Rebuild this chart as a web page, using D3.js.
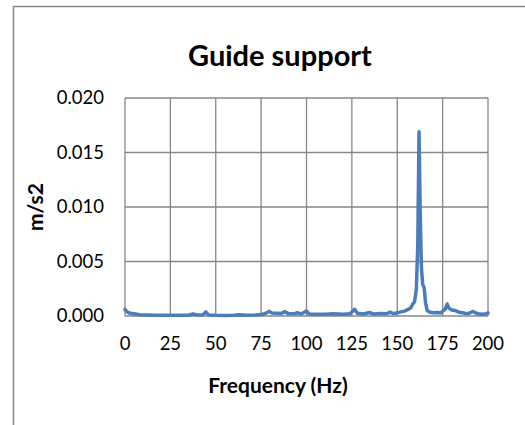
<!DOCTYPE html>
<html>
<head>
<meta charset="utf-8">
<script src="https://cdn.jsdelivr.net/npm/d3@7"></script>
<style>
  body { margin: 0; background: #fff; }
  svg { display: block; font-family: Lato, "Open Sans", sans-serif; }
</style>
</head>
<body>
<svg width="525" height="425"></svg>
<script>
(function () {

  // frequency (Hz) and amplitude (m/s2)
  var freq = [0, 1, 2, 3, 5, 8, 12, 18, 25, 30, 35, 37.5, 40, 43, 44.5, 46, 50, 55, 60, 63, 67, 72, 75,
    77, 78, 79.5, 81, 84, 86, 88, 90, 93, 95, 97, 100, 101.5, 105, 110, 115, 120, 124, 126.5, 128,
    131, 135, 137, 141, 144, 146, 148, 150, 152, 154, 156, 157.5, 158.5, 159.5, 160.5, 161.3, 162,
    162.7, 163.3, 164, 164.8, 165.6, 166.5, 168, 170, 172, 174, 175.5, 176.5, 177.5, 178.5, 180, 182,
    184, 186, 188, 190, 191.5, 193, 195, 197, 199, 200]
  var accel = [0.0006, 0.0004, 0.0003, 0.00025, 0.0002, 0.00012, 0.0001, 0.00008, 0.00008, 0.00007, 0.00008, 0.00018, 0.0001, 0.00012, 0.00038, 0.0001, 0.00006, 0.00005, 0.00006, 0.00012, 0.00007, 0.00009, 0.00014,
    0.0002, 0.0003, 0.00042, 0.00028, 0.00025, 0.00022, 0.0004, 0.00022, 0.0002, 0.0003, 0.00018, 0.00045, 0.00018, 0.00016, 0.00015, 0.0002, 0.00015, 0.0002, 0.00062, 0.00025,
    0.00018, 0.00032, 0.00018, 0.00022, 0.0002, 0.00035, 0.00022, 0.0003, 0.00038, 0.00045, 0.0006, 0.00075, 0.0011, 0.0013, 0.0024, 0.0065, 0.0169,
    0.009, 0.0045, 0.0029, 0.0026, 0.0012, 0.0005, 0.00035, 0.0003, 0.00032, 0.00028, 0.0005, 0.00065, 0.0011, 0.0007, 0.00055, 0.0005,
    0.00035, 0.0003, 0.00022, 0.00028, 0.00042, 0.0003, 0.00018, 0.00016, 0.0002, 0.00028]

  var xTicks = [0, 25, 50, 75, 100, 125, 150, 175, 200]
  var yTicks = [0, 0.005, 0.010, 0.015, 0.020]

  var svg = d3.select('svg')
  var grey = '#878787'

  // outer chart border (runs off the right and bottom edges)
  svg.append('rect')
    .attr('x', 13.5).attr('y', 6.5)
    .attr('width', 540).attr('height', 440)
    .attr('fill', 'none').attr('stroke', grey).attr('stroke-width', 1.5)

  var left = 125, right = 488, top = 98, bottom = 316

  var x = d3.scaleLinear().domain([0, 200]).range([left, right])
  var y = d3.scaleLinear().domain([0, 0.02]).range([bottom, top])

  // gridlines
  svg.append('g').selectAll('line')
    .data(xTicks)
    .enter().append('line')
    .attr('x1', d => x(d)).attr('x2', d => x(d))
    .attr('y1', top).attr('y2', bottom)
    .attr('stroke', grey).attr('stroke-width', 1.3)

  svg.append('g').selectAll('line')
    .data(yTicks)
    .enter().append('line')
    .attr('x1', left).attr('x2', right)
    .attr('y1', d => y(d)).attr('y2', d => y(d))
    .attr('stroke', grey).attr('stroke-width', 1.3)

  // tick labels
  svg.append('g').selectAll('text')
    .data(yTicks)
    .enter().append('text')
    .attr('x', 104)
    .attr('y', d => y(d))
    .attr('dy', '0.35em')
    .attr('text-anchor', 'end')
    .attr('font-size', 18.5)
    .attr('fill', '#000')
    .text(d => d3.format('.3f')(d))

  svg.append('g').selectAll('text')
    .data(xTicks)
    .enter().append('text')
    .attr('x', d => x(d))
    .attr('y', 344)
    .attr('dy', '0.35em')
    .attr('text-anchor', 'middle')
    .attr('font-size', 18.5)
    .attr('fill', '#000')
    .text(d => d)

  // the spectrum
  var line = d3.line()
    .x((d, i) => x(freq[i]))
    .y(d => y(d))

  svg.append('path')
    .datum(accel)
    .attr('d', line)
    .attr('fill', 'none')
    .attr('stroke', '#4a7ebb')
    .attr('stroke-width', 3.5)
    .attr('stroke-linejoin', 'round')
    .attr('stroke-linecap', 'round')

  // titles
  svg.append('text')
    .attr('x', 280).attr('y', 66)
    .attr('text-anchor', 'middle')
    .attr('font-size', 29).attr('font-weight', 'bold')
    .text('Guide support')

  svg.append('text')
    .attr('x', 278).attr('y', 393)
    .attr('text-anchor', 'middle')
    .attr('font-size', 21).attr('font-weight', 'bold')
    .text('Frequency (Hz)')

  svg.append('text')
    .attr('transform', 'translate(43,207) rotate(-90)')
    .attr('text-anchor', 'middle')
    .attr('font-size', 21).attr('font-weight', 'bold')
    .text('m/s2')

})()
</script>
</body>
</html>
